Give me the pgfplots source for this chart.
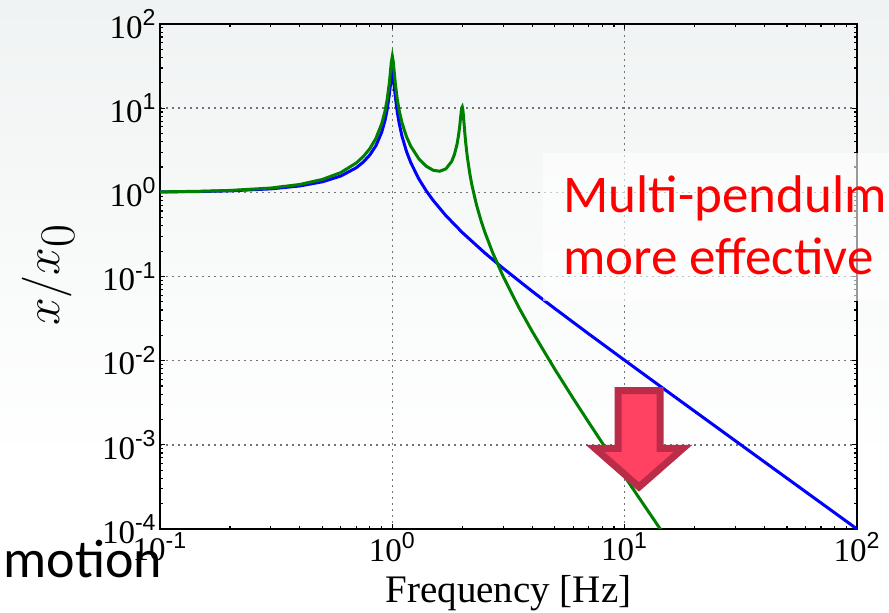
\documentclass[border=0pt]{standalone}
\usepackage{fontspec}
\setmainfont{Liberation Serif}
\setsansfont{Liberation Sans}
\newfontfamily\carlito{Carlito}
\usepackage{pgfplots}
\pgfplotsset{compat=1.18}
\definecolor{mplgreen}{RGB}{0,128,0}
\definecolor{bgtop}{RGB}{240,243,243}
\definecolor{arrowfill}{RGB}{255,66,98}
\definecolor{arrowedge}{RGB}{187,44,72}
\newcommand{\tl}[1]{10\textsuperscript{\sffamily #1}}

\begin{document}
\begin{tikzpicture}
\useasboundingbox (0,0) rectangle (444.5pt,306.5pt);
\shade[top color=bgtop, bottom color=white] (0,75pt) rectangle (444.5pt,306.5pt);
\fill[white] (0,0) rectangle (444.5pt,75pt);
\begin{axis}[
    at={(80pt,42pt)}, anchor=south west,
    scale only axis, width=348.5pt, height=252.5pt,
    xmode=log, ymode=log,
    xmin=0.1, xmax=100, ymin=1e-4, ymax=100,
    xtick={0.1,1,10,100},
    xticklabels={\tl{-1},\tl{0},\tl{1},\tl{2}},
    minor xtick={0.2,0.3,0.4,0.5,0.6,0.7,0.8,0.9,2,3,4,5,6,7,8,9,20,30,40,50,60,70,80,90},
    ytick={1e-4,1e-3,1e-2,1e-1,1,10,100},
    yticklabels={\tl{-4},\tl{-3},\tl{-2},\tl{-1},\tl{0},\tl{1},\tl{2}},
    minor ytick={2e-4,3e-4,4e-4,5e-4,6e-4,7e-4,8e-4,9e-4,
                 2e-3,3e-3,4e-3,5e-3,6e-3,7e-3,8e-3,9e-3,
                 2e-2,3e-2,4e-2,5e-2,6e-2,7e-2,8e-2,9e-2,
                 0.2,0.3,0.4,0.5,0.6,0.7,0.8,0.9,
                 2,3,4,5,6,7,8,9,20,30,40,50,60,70,80,90},
    tick align=inside,
    major tick length=2.5pt, minor tick length=1.5pt,
    every tick/.style={black, line width=0.6pt},
    axis line style={line width=0.8pt},
    grid=major,
    major grid style={black!55, line width=0.7pt, dash pattern=on 0.9pt off 2.1pt},
    ticklabel style={font=\fontsize{16.5}{18}\selectfont, inner sep=1.5pt},
    xlabel={Frequency [Hz]},
    xlabel style={at={(axis description cs:0.5,-0.1446)}, anchor=base, font=\fontsize{19.5}{22}\selectfont},
    ylabel={$x/x_0$},
    ylabel style={at={(axis description cs:-0.1435,0.503)}, anchor=base, font=\fontsize{36}{42}\selectfont},
]
% single pendulum
\addplot[blue, line width=1.5pt] coordinates {
(0.1,1.0101) (0.15,1.0230) (0.2,1.0417) (0.3,1.0989) (0.4,1.1905) (0.5,1.3333)
(0.6,1.5625) (0.7,1.9608) (0.75,2.2857) (0.8,2.777) (0.85,3.579) (0.9,5.178)
(0.93,7.155) (0.95,9.604) (0.97,14.31) (0.98,18.29) (0.99,23.27) (1.0,26.0)
(1.01,22.86) (1.02,17.76) (1.03,13.76) (1.05,9.077) (1.07,6.639) (1.1,4.668)
(1.15,3.072) (1.2,2.260) (1.3,1.4455) (1.4,1.0400) (1.5,0.7998) (1.7,0.5291)
(2,0.3333) (2.5,0.1905) (3,0.125) (4,0.06667) (5,0.04167) (7,0.020833)
(10,0.010101) (15,0.004464) (20,0.0025063) (30,0.0011123) (50,0.00040016)
(70,0.00020412) (100,0.00010001)
};
% double pendulum
\addplot[mplgreen, line width=1.5pt] coordinates {
(0.1,1.01263) (0.15,1.02881) (0.2,1.05219) (0.3,1.12419) (0.4,1.24008) (0.5,1.42222)
(0.6,1.71703) (0.7,2.23451) (0.75,2.65973) (0.8,3.2984) (0.85,4.3767) (0.9,6.5238)
(0.93,9.2193) (0.95,12.636) (0.97,19.553) (0.98,25.972) (0.99,35.20) (1.0,41.33)
(1.01,35.06) (1.02,25.94) (1.03,19.616) (1.05,12.788) (1.07,9.4058) (1.1,6.7316)
(1.15,4.6019) (1.2,3.5375) (1.3,2.5050) (1.4,2.0402) (1.5,1.8286) (1.6,1.7806)
(1.7,1.8975) (1.8,2.3227) (1.85,2.8000) (1.9,3.7488) (1.93,4.8613) (1.95,6.0954)
(1.97,7.9713) (1.98,9.1002) (1.99,10.051) (2.0,10.331) (2.01,9.6932) (2.02,8.4800)
(2.03,7.1908) (2.05,5.1642) (2.07,3.8700) (2.1,2.7165) (2.15,1.7314) (2.2,1.2227)
(2.3,0.71806) (2.4,0.47562) (2.5,0.33776) (2.7,0.19329) (3,0.1) (3.5,0.043098)
(4,0.022222) (5,0.0079365) (6,0.0035714) (7,0.0018519) (8,0.0010582)
(10,0.00042088) (12,0.00019980) (14,0.00010684) (15,0.000080802)
};
\end{axis}
\draw[arrowedge, fill=arrowfill, line width=3.5pt, line join=miter]
  (309pt,111.2pt) -- (330pt,111.2pt) -- (330pt,82.3pt) -- (341.5pt,82.3pt)
  -- (319.5pt,63pt) -- (297.5pt,82.3pt) -- (309pt,82.3pt) -- cycle;
\fill[white, fill opacity=0.6] (271.5pt,156pt) rectangle (450pt,230pt);
\node[anchor=base west, inner sep=0, text=red, font=\carlito\fontsize{26.5}{31}\selectfont]
  at (281.5pt,200pt) {Multi-pendulm};
\node[anchor=base west, inner sep=0, text=red, font=\carlito\fontsize{26.5}{31}\selectfont]
  at (281.5pt,169pt) {more effective};
\node[anchor=base west, inner sep=0, font=\carlito\fontsize{27}{32}\selectfont]
  at (1.5pt,17.5pt) {motion};
\end{tikzpicture}
\end{document}
